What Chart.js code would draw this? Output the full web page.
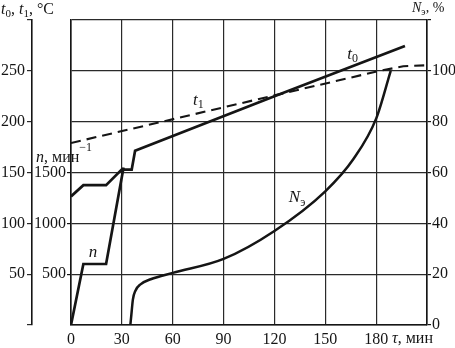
<!DOCTYPE html>
<html>
<head>
<meta charset="utf-8">
<script src="https://cdn.jsdelivr.net/npm/chart.js@4.4.1/dist/chart.umd.min.js"></script>
<style>
  html, body { margin: 0; padding: 0; background: #fff; }
  #wrap { width: 455px; height: 348px; }
</style>
</head>
<body>
<div id="wrap"><canvas id="grafico"></canvas></div>
<script>
// время, мин / значения
const tau0 = [0, 7.3, 20.7, 29.9, 35.8, 37.8, 120, 197];
const t0Vals = [126.5, 137.5, 137.5, 152.8, 152.8, 171.5, 225, 274.5];

const tau1 = [0, 182, 196, 210];
const t1Vals = [179, 250, 254.5, 255.5];

const tauN = [0, 7.3, 20.7, 31];
const nVals = [0, 600, 600, 1550];

const tauE = [35, 35.6, 36.5, 38, 41, 47, 60, 90, 120, 150, 166.6, 180, 188.6];
const neVals = [0, 4, 10, 13.5, 16, 18, 20.5, 26, 37, 52.6, 65.3, 81.2, 100];

const nTicks = [500, 1000, 1500];

const INK = '#151515';
const SERIF = "'Liberation Serif', 'DejaVu Serif', serif";
const pts = (xs, ys) => xs.map((x, i) => ({ x: x, y: ys[i] }));

// подписи осей и кривых (индексы, курсив)
function drawParts(ctx, x, y, parts) {
    parts.forEach(p => {
        const size = p.size || 16;
        ctx.font = (p.italic ? 'italic ' : '') + size + 'px ' + SERIF;
        ctx.fillText(p.t, x, y + (p.dy || 0));
        x += ctx.measureText(p.t).width + (p.gap || 0);
    });
}

const textPlugin = {
    id: 'labels',
    afterDraw(chart) {
        const ctx = chart.ctx;
        const sx = chart.scales.x, sT = chart.scales.yT, sN = chart.scales.yN, sP = chart.scales.yP;
        ctx.save();
        ctx.fillStyle = INK;
        ctx.textBaseline = 'alphabetic';
        ctx.textAlign = 'left';

        drawParts(ctx, 1, 14, [
            { t: 't', italic: true }, { t: '0', size: 11, dy: 3 }, { t: ', ' },
            { t: 't', italic: true }, { t: '1', size: 11, dy: 3 }, { t: ', °C' }
        ]);
        drawParts(ctx, 412, 12, [
            { t: 'N', italic: true, size: 14 }, { t: 'э', size: 10, dy: 3 }, { t: ', %', size: 14 }
        ]);
        drawParts(ctx, 36, 162, [
            { t: 'n', italic: true }, { t: ', мин' }, { t: '−1', size: 12, dy: -11, gap: 0 }
        ]);
        drawParts(ctx, 392, 343, [{ t: 'τ', italic: true }, { t: ', мин' }]);

        // подписи кривых
        drawParts(ctx, sx.getPixelForValue(163), sT.getPixelForValue(262), [
            { t: 't', italic: true, size: 17 }, { t: '0', size: 12, dy: 3 }
        ]);
        drawParts(ctx, sx.getPixelForValue(72), sT.getPixelForValue(216), [
            { t: 't', italic: true, size: 17 }, { t: '1', size: 12, dy: 3 }
        ]);
        drawParts(ctx, sx.getPixelForValue(10.5), sN.getPixelForValue(620) - 5, [
            { t: 'n', italic: true, size: 17 }
        ]);
        drawParts(ctx, sx.getPixelForValue(128.5), sP.getPixelForValue(48.5), [
            { t: 'N', italic: true, size: 17 }, { t: 'э', size: 12, dy: 4 }
        ]);
        ctx.restore();
    }
};

const tickFont = { family: SERIF, size: 16 };

new Chart(document.getElementById('grafico'), {
    type: 'line',
    data: {
        datasets: [
            {
                label: 't0', yAxisID: 'yT', data: pts(tau0, t0Vals),
                borderColor: INK, borderWidth: 2.7, pointRadius: 0, tension: 0
            },
            {
                label: 't1', yAxisID: 'yT', data: pts(tau1, t1Vals),
                borderColor: INK, borderWidth: 2.1, borderDash: [10, 6], pointRadius: 0, tension: 0
            },
            {
                label: 'n', yAxisID: 'yN', data: pts(tauN, nVals),
                borderColor: INK, borderWidth: 2.7, pointRadius: 0, tension: 0
            },
            {
                label: 'Nэ', yAxisID: 'yP', data: pts(tauE, neVals),
                borderColor: INK, borderWidth: 2.5, pointRadius: 0, cubicInterpolationMode: 'monotone'
            }
        ]
    },
    options: {
        responsive: true,
        maintainAspectRatio: false,
        animation: false,
        devicePixelRatio: 1,
        layout: { padding: { top: 20, left: 0, right: 0, bottom: 0 } },
        plugins: { legend: { display: false }, tooltip: { enabled: false } },
        scales: {
            x: {
                type: 'linear', min: 0, max: 210,
                grid: { color: '#2a2a2a', lineWidth: 1.2, drawTicks: false },
                border: { color: INK, width: 1.6 },
                ticks: {
                    stepSize: 30, autoSkip: false, maxRotation: 0, padding: 5,
                    color: INK, font: tickFont,
                    callback: v => (v <= 180 ? String(v) : '')
                },
                afterFit: s => { s.height = 23; }
            },
            yT: {
                type: 'linear', position: 'left', weight: 1, min: 0, max: 300,
                grid: { color: '#2a2a2a', lineWidth: 1.2, tickLength: 5 },
                border: { color: INK, width: 1.6 },
                ticks: {
                    stepSize: 50, padding: 2, color: INK, font: tickFont,
                    callback: v => (v > 0 && v < 300 ? String(v) : '')
                },
                afterFit: s => { s.width = 32; }
            },
            yN: {
                type: 'linear', position: 'left', weight: 0, min: 0, max: 3000,
                grid: { drawOnChartArea: false, color: INK, lineWidth: 1.2, tickLength: 4 },
                border: { color: INK, width: 1.6 },
                ticks: { padding: 1, color: INK, font: tickFont, callback: v => String(v) },
                afterBuildTicks: s => { s.ticks = nTicks.map(v => ({ value: v })); },
                afterFit: s => { s.width = 39; }
            },
            yP: {
                type: 'linear', position: 'right', min: 0, max: 120,
                grid: { drawOnChartArea: false, color: INK, lineWidth: 1.2, tickLength: 4 },
                border: { color: INK, width: 1.6 },
                ticks: {
                    stepSize: 20, padding: 1, color: INK, font: tickFont,
                    callback: v => (v <= 100 ? String(v) : '')
                },
                afterFit: s => { s.width = 28; }
            }
        }
    },
    plugins: [textPlugin]
});
</script>
</body>
</html>
